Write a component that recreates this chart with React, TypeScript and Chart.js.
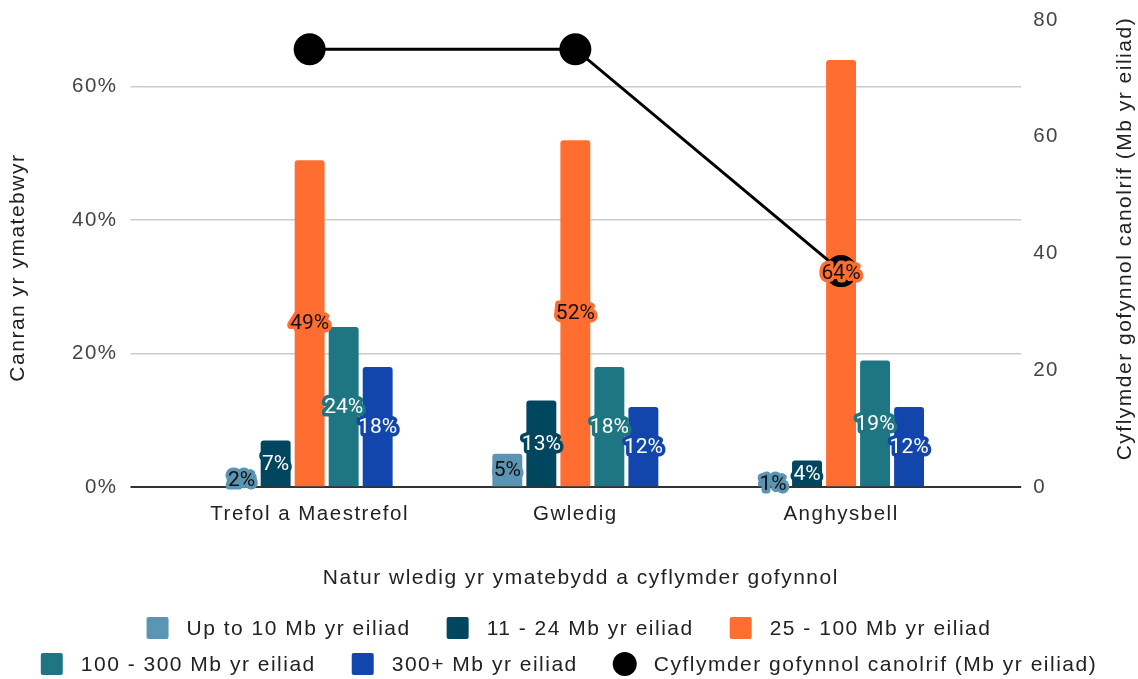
import React, { useEffect, useRef } from 'react';
import { Chart, registerables } from 'chart.js';

Chart.register(...registerables);

const categories = ['Trefol a Maestrefol', 'Gwledig', 'Anghysbell'];
const seriesNames = [
  'Up to 10 Mb yr eiliad',
  '11 - 24 Mb yr eiliad',
  '25 - 100 Mb yr eiliad',
  '100 - 300 Mb yr eiliad',
  '300+ Mb yr eiliad',
];
const upTo10 = [2, 5, 1];
const mb11to24 = [7, 13, 4];
const mb25to100 = [49, 52, 64];
const mb100to300 = [24, 18, 19];
const mb300plus = [18, 12, 12];
const medianName = 'Cyflymder gofynnol canolrif (Mb yr eiliad)';
const medianSpeed = [75, 75, 37];
const leftTicks = [0, 20, 40, 60];
const rightTicks = [0, 20, 40, 60, 80];

const leftTitle = 'Canran yr ymatebwyr';
const rightTitle = 'Cyflymder gofynnol canolrif (Mb yr eiliad)';
const xTitle = 'Natur wledig yr ymatebydd a cyflymder gofynnol';

const barColors = ['#5b95b3', '#00465f', '#ff6d31', '#1d7681', '#1346ad'];
const labelTextColors = ['#111111', '#ffffff', '#111111', '#ffffff', '#ffffff'];
const barSeries = [upTo10, mb11to24, mb25to100, mb100to300, mb300plus];

const AXIS_FONT = '"Liberation Sans", Arial, sans-serif';
const LABEL_FONT = 'Roboto, "Liberation Sans", Arial, sans-serif';
const SPACING = '1.5px';

const spacingPlugin = {
  id: 'spacing',
  beforeUpdate(chart: any) {
    chart.ctx.letterSpacing = SPACING;
  },
  beforeLayout(chart: any) {
    chart.ctx.letterSpacing = SPACING;
  },
  beforeDraw(chart: any) {
    chart.ctx.letterSpacing = SPACING;
  },
};

const overlayPlugin = {
  id: 'overlay',
  afterDatasetsDraw(chart: any) {
    const ctx = chart.ctx;
    ctx.save();
    ctx.letterSpacing = '0px';
    ctx.font = `21px ${LABEL_FONT}`;
    ctx.textAlign = 'center';
    ctx.textBaseline = 'middle';
    ctx.lineJoin = 'round';
    for (let d = 0; d < barSeries.length; d++) {
      const meta = chart.getDatasetMeta(d);
      meta.data.forEach((el: any, i: number) => {
        const text = `${barSeries[d][i]}%`;
        const x = el.x;
        const y = (el.y + el.base) / 2;
        ctx.strokeStyle = barColors[d];
        ctx.lineWidth = 7;
        ctx.strokeText(text, x, y + 1);
        ctx.fillStyle = labelTextColors[d];
        ctx.fillText(text, x, y + 1);
      });
    }
    ctx.restore();
  },
  afterDraw(chart: any) {
    const ctx = chart.ctx;
    const area = chart.chartArea;
    ctx.save();
    ctx.letterSpacing = SPACING;
    ctx.fillStyle = '#222222';
    ctx.font = `21px ${AXIS_FONT}`;
    ctx.textAlign = 'center';
    ctx.textBaseline = 'middle';
    const ys = chart.scales.y;
    ctx.save();
    ctx.translate(ys.left + 18, (area.top + area.bottom) / 2 + 14);
    ctx.rotate(-Math.PI / 2);
    ctx.fillText(leftTitle, 0, 0);
    ctx.restore();
    const y2 = chart.scales.y2;
    ctx.save();
    ctx.translate(y2.right - 13, (area.top + area.bottom) / 2 - 15);
    ctx.rotate(-Math.PI / 2);
    ctx.fillText(rightTitle, 0, 0);
    ctx.restore();

    // legend
    ctx.font = `21px ${AXIS_FONT}`;
    ctx.textAlign = 'left';
    const items = [
      ...seriesNames.map((n, i) => ({ text: n, color: barColors[i], circle: false })),
      { text: medianName, color: '#000000', circle: true },
    ];
    const box = 22;
    const gapBT = 18;
    const gapItem = 36;
    const maxW = chart.width - 30;
    const widths = items.map((it) => box + gapBT + ctx.measureText(it.text).width);
    const rows: number[][] = [[]];
    let cur = 0;
    items.forEach((_, i) => {
      const w = widths[i];
      const row = rows[rows.length - 1];
      const add = row.length ? gapItem + w : w;
      if (row.length && cur + add > maxW) {
        rows.push([i]);
        cur = w;
      } else {
        row.push(i);
        cur += add;
      }
    });
    rows.forEach((row, r) => {
      const total = row.reduce((s, i) => s + widths[i], 0) + gapItem * (row.length - 1);
      let x = chart.width / 2 - total / 2;
      const cy = 628 + r * 36;
      row.forEach((i) => {
        const it = items[i];
        ctx.fillStyle = it.color;
        if (it.circle) {
          ctx.beginPath();
          ctx.arc(x + box / 2, cy, 12, 0, Math.PI * 2);
          ctx.fill();
        } else {
          ctx.beginPath();
          ctx.roundRect(x, cy - box / 2, box, box, 2);
          ctx.fill();
        }
        ctx.fillStyle = '#222222';
        ctx.fillText(it.text, x + box + gapBT, cy + 1);
        x += widths[i] + gapItem;
      });
    });
    ctx.restore();
  },
};

const noVerticalPad = (s: any) => {
  s.paddingTop = 0;
  s.paddingBottom = 0;
};

export default function App() {
  const canvasRef = useRef<HTMLCanvasElement | null>(null);

  useEffect(() => {
    if (!canvasRef.current) return;
    const barDatasets = barSeries.map((vals, d) => ({
      type: 'bar' as const,
      label: seriesNames[d],
      data: vals.map((v, i) => ({ x: i, y: v })),
      backgroundColor: barColors[d],
      borderRadius: { topLeft: 3, topRight: 3, bottomLeft: 0, bottomRight: 0 },
      borderSkipped: 'bottom' as const,
      xAxisID: 'x',
      yAxisID: 'y',
      categoryPercentage: 0.64,
      barPercentage: 0.88,
      order: 1,
    }));
    const lineDataset = {
      type: 'line' as const,
      label: medianName,
      data: medianSpeed.map((v, i) => ({ x: i, y: v })),
      borderColor: '#000000',
      backgroundColor: '#000000',
      borderWidth: 3,
      pointRadius: 16,
      pointHoverRadius: 16,
      pointBackgroundColor: '#000000',
      pointBorderWidth: 0,
      xAxisID: 'x',
      yAxisID: 'y2',
      order: 0,
    };

    const chart = new Chart(canvasRef.current, {
      type: 'bar',
      data: { datasets: [...barDatasets, lineDataset] as any },
      options: {
        responsive: false,
        animation: false,
        devicePixelRatio: 1,
        layout: { padding: { top: 20, left: 0, right: 0, bottom: 80 } },
        plugins: {
          legend: { display: false },
          tooltip: { enabled: false },
        },
        scales: {
          x: {
            type: 'linear',
            position: 'bottom',
            min: -0.6365,
            max: 2.678,
            offset: false,
            grid: { display: false, offset: false },
            border: { display: false },
            afterBuildTicks: (s: any) => {
              s.ticks = categories.map((_, i) => ({ value: i }));
            },
            ticks: {
              autoSkip: false,
              maxRotation: 0,
              padding: 7,
              color: '#222222',
              font: { family: AXIS_FONT, size: 20.5 },
              callback: (v: any) => categories[Math.round(Number(v))] ?? '',
            },
            title: {
              display: true,
              text: xTitle,
              color: '#222222',
              font: { family: AXIS_FONT, size: 21 },
              padding: { top: 32, bottom: 8 },
            },
          },
          y: {
            type: 'linear',
            position: 'left',
            min: 0,
            max: 70,
            afterBuildTicks: (s: any) => {
              s.ticks = leftTicks.map((v) => ({ value: v }));
            },
            afterFit: noVerticalPad,
            grid: {
              color: (c: any) => (c.tick && c.tick.value === 0 ? '#333333' : '#cccccc'),
              lineWidth: (c: any) => (c.tick && c.tick.value === 0 ? 2 : 1.5),
              tickLength: 10,
            },
            border: { display: false },
            ticks: {
              padding: 13,
              color: '#444444',
              font: { family: AXIS_FONT, size: 20.5 },
              callback: (v: any) => `${v}%`,
            },
            title: {
              display: true,
              text: leftTitle,
              color: 'rgba(0,0,0,0)',
              font: { family: AXIS_FONT, size: 20 },
              padding: { top: 6, bottom: 29 },
            },
          },
          y2: {
            type: 'linear',
            position: 'right',
            min: 0,
            max: 80,
            afterBuildTicks: (s: any) => {
              s.ticks = rightTicks.map((v) => ({ value: v }));
            },
            afterFit: noVerticalPad,
            grid: { display: false, drawOnChartArea: false, drawTicks: false },
            border: { display: false },
            ticks: {
              padding: 12,
              color: '#444444',
              font: { family: AXIS_FONT, size: 20.5 },
            },
            title: {
              display: true,
              text: rightTitle,
              color: 'rgba(0,0,0,0)',
              font: { family: AXIS_FONT, size: 20 },
              padding: { top: 1, bottom: 42 },
            },
          },
        },
      },
      plugins: [spacingPlugin, overlayPlugin],
    });
    return () => chart.destroy();
  }, []);

  return (
    <div style={{ position: 'fixed', left: 0, top: 0, width: 1138, height: 679, background: '#ffffff' }}>
      <canvas ref={canvasRef} width={1138} height={679} />
    </div>
  );
}
